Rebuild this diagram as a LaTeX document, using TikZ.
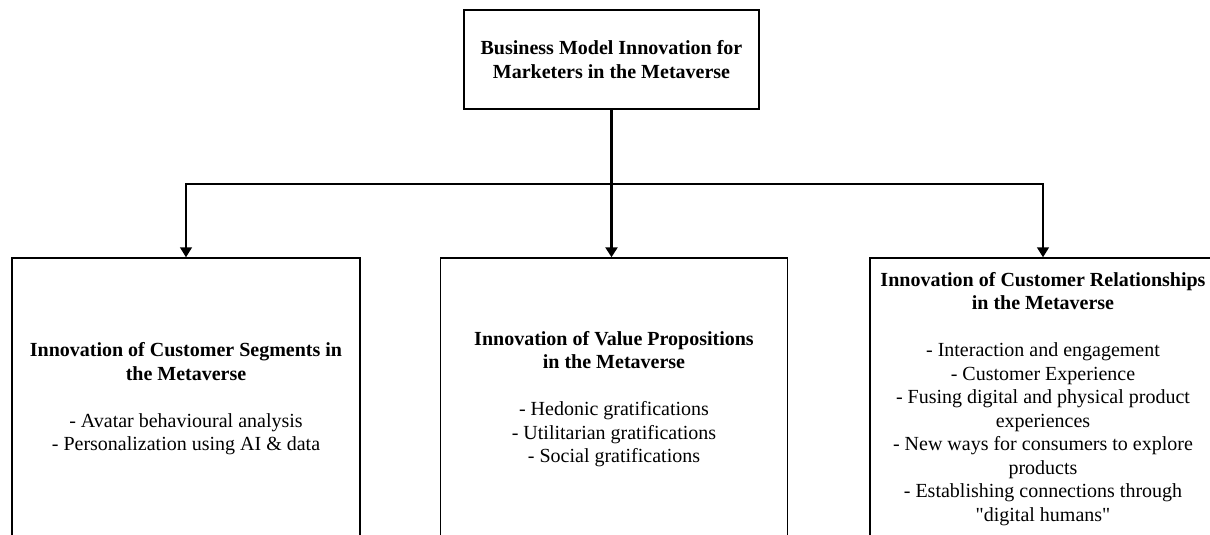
\documentclass[tikz,border=0pt]{standalone}
\usepackage{fontspec}
\setmainfont{Liberation Serif}
\usetikzlibrary{arrows.meta}
\begin{document}
\begin{tikzpicture}[x=0.5pt,y=-0.5pt,
  box/.style={draw,line width=0.75pt,align=center,inner sep=0pt,
    font=\fontsize{10}{11.75}\selectfont},
  link/.style={line width=0.75pt,-{Triangle[width=6pt,length=5pt]}}]
\clip (0,0) rectangle (1210,535);
\node[box,minimum width=147.5pt,minimum height=49.5pt] (top) at (611.5,59.5)
  {\textbf{Business Model Innovation for}\\\textbf{Marketers in the Metaverse}};
\node[box,minimum width=174pt,minimum height=141pt] (seg) at (186,399)
  {\textbf{Innovation of Customer Segments in}\\\textbf{the Metaverse}\\[11.75pt]
   - Avatar behavioural analysis\\- Personalization using AI \& data};
\node[box,minimum width=173.5pt,minimum height=141pt] (val) at (614,399)
  {\textbf{Innovation of Value Propositions}\\\textbf{in the Metaverse}\\[11.75pt]
   - Hedonic gratifications\\- Utilitarian gratifications\\- Social gratifications};
\node[box,minimum width=173pt,minimum height=141pt] (rel) at (1043,399)
  {\textbf{Innovation of Customer Relationships}\\\textbf{in the Metaverse}\\[11.75pt]
   - Interaction and engagement\\- Customer Experience\\
   - Fusing digital and physical product\\experiences\\
   - New ways for consumers to explore\\products\\
   - Establishing connections through\\\textquotedbl digital humans\textquotedbl};
\coordinate (split) at (611.5,184);
% connectors
\draw[link,line width=1.5pt] (top.south) -- (top.south |- val.north);
\draw[link] (split) -| (seg.north);
\draw[link] (split) -| (rel.north);
\end{tikzpicture}
\end{document}
